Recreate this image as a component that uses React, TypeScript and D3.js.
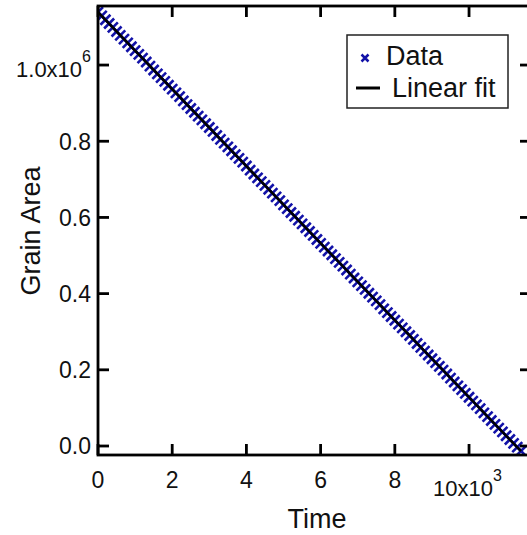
import React, { useEffect, useRef } from 'react';
import * as d3 from 'd3';

const times = [
  0, 100, 200, 300, 400, 500, 600, 700, 800, 900,
  1000, 1100, 1200, 1300, 1400, 1500, 1600, 1700, 1800, 1900,
  2000, 2100, 2200, 2300, 2400, 2500, 2600, 2700, 2800, 2900,
  3000, 3100, 3200, 3300, 3400, 3500, 3600, 3700, 3800, 3900,
  4000, 4100, 4200, 4300, 4400, 4500, 4600, 4700, 4800, 4900,
  5000, 5100, 5200, 5300, 5400, 5500, 5600, 5700, 5800, 5900,
  6000, 6100, 6200, 6300, 6400, 6500, 6600, 6700, 6800, 6900,
  7000, 7100, 7200, 7300, 7400, 7500, 7600, 7700, 7800, 7900,
  8000, 8100, 8200, 8300, 8400, 8500, 8600, 8700, 8800, 8900,
  9000, 9100, 9200, 9300, 9400, 9500, 9600, 9700, 9800, 9900,
  10000, 10100, 10200, 10300, 10400, 10500, 10600, 10700, 10800, 10900,
  11000, 11100, 11200, 11300, 11400,
];
const areasK = [
  1139, 1129, 1119, 1109, 1099, 1088, 1078, 1068, 1058, 1048,
  1038, 1028, 1018, 1008, 997, 987, 977, 967, 957, 947,
  937, 927, 917, 906, 896, 886, 876, 866, 856, 846,
  836, 826, 815, 805, 795, 785, 775, 765, 755, 745,
  735, 724, 714, 704, 694, 684, 674, 664, 654, 644,
  633, 623, 613, 603, 593, 583, 573, 563, 553, 542,
  532, 522, 512, 502, 492, 482, 472, 462, 451, 441,
  431, 421, 411, 401, 391, 381, 371, 360, 350, 340,
  330, 320, 310, 300, 290, 280, 269, 259, 249, 239,
  229, 219, 209, 199, 189, 178, 168, 158, 148, 138,
  128, 118, 108, 98, 87, 77, 67, 57, 47, 37,
  27, 17, 7, -3, -13,
];
const xTicks = [0, 2000, 4000, 6000, 8000, 10000];
const xTickLabels = ['0', '2', '4', '6', '8', '10x10'];
const yTicks = [0, 200000, 400000, 600000, 800000, 1000000];
const yTickLabels = ['0.0', '0.2', '0.4', '0.6', '0.8', '1.0x10'];
const legendItems = ['Data', 'Linear fit'];

const W = 527;
const H = 535;
const FONT = '"Liberation Sans", Arial, sans-serif';
const BLUE = '#1212a8';

function Chart() {
  const ref = useRef<SVGSVGElement>(null);

  useEffect(() => {
    const svg = d3.select(ref.current);
    svg.selectAll('*').remove();

    const left = 98, right = 531, top = 6, bottom = 455;
    const x = d3.scaleLinear().domain([0, 11670]).range([left, right]);
    const y = d3.scaleLinear().domain([-23600, 1155000]).range([bottom, top]);

    const data = times.map((t, i) => ({ t, a: areasK[i] * 1000 }));

    // least squares fit
    const mt = d3.mean(data, d => d.t)!;
    const ma = d3.mean(data, d => d.a)!;
    const slope = d3.sum(data, d => (d.t - mt) * (d.a - ma)) / d3.sum(data, d => (d.t - mt) ** 2);
    const icpt = ma - slope * mt;
    const t0 = times[0], t1 = times[times.length - 1];

    svg.append('clipPath').attr('id', 'plotclip')
      .append('rect')
      .attr('x', left).attr('y', top - 6)
      .attr('width', right - left + 10).attr('height', bottom - top + 6);

    const plot = svg.append('g').attr('clip-path', 'url(#plotclip)');

    // data markers
    const s = 5;
    plot.selectAll('path.mark')
      .data(data)
      .enter()
      .append('path')
      .attr('class', 'mark')
      .attr('d', d => {
        const cx = x(d.t), cy = y(d.a);
        return `M${cx - s},${cy - s}L${cx + s},${cy + s}M${cx - s},${cy + s}L${cx + s},${cy - s}`;
      })
      .attr('stroke', BLUE)
      .attr('stroke-width', 2.6)
      .attr('fill', 'none');

    // fit line
    plot.append('line')
      .attr('x1', x(t0)).attr('y1', y(icpt + slope * t0))
      .attr('x2', x(t1)).attr('y2', y(icpt + slope * t1))
      .attr('stroke', '#000')
      .attr('stroke-width', 2.5);

    // frame
    svg.append('rect')
      .attr('x', left).attr('y', top)
      .attr('width', right - left).attr('height', bottom - top)
      .attr('fill', 'none')
      .attr('stroke', '#000')
      .attr('stroke-width', 2.8);

    const tl = 11;
    const ticks = svg.append('g').attr('stroke', '#000').attr('stroke-width', 2.8);
    xTicks.forEach(v => {
      ticks.append('line').attr('x1', x(v)).attr('x2', x(v)).attr('y1', bottom).attr('y2', bottom - tl);
      ticks.append('line').attr('x1', x(v)).attr('x2', x(v)).attr('y1', top).attr('y2', top + tl);
    });
    yTicks.forEach(v => {
      ticks.append('line').attr('y1', y(v)).attr('y2', y(v)).attr('x1', left).attr('x2', left + tl);
      ticks.append('line').attr('y1', y(v)).attr('y2', y(v)).attr('x1', right).attr('x2', right - tl);
    });

    const fs = '23px';
    // x tick labels
    xTicks.forEach((v, i) => {
      if (i === xTicks.length - 1) {
        const t = svg.append('text')
          .attr('x', x(v) - 36).attr('y', 496)
          .style('font-family', FONT).style('font-size', '22px').attr('fill', '#111');
        t.append('tspan').text(xTickLabels[i]);
        t.append('tspan').attr('dy', -15).style('font-size', '16px').text('3');
      } else {
        svg.append('text')
          .attr('x', x(v)).attr('y', 488)
          .attr('text-anchor', 'middle')
          .style('font-family', FONT).style('font-size', fs).attr('fill', '#111')
          .text(xTickLabels[i]);
      }
    });

    // y tick labels
    yTicks.forEach((v, i) => {
      if (i === yTicks.length - 1) {
        const t = svg.append('text')
          .attr('x', 91).attr('y', y(v) + 12)
          .attr('text-anchor', 'end')
          .style('font-family', FONT).style('font-size', '22px').attr('fill', '#111');
        t.append('tspan').text(yTickLabels[i]);
        t.append('tspan').attr('dy', -15).style('font-size', '16px').text('6');
      } else {
        svg.append('text')
          .attr('x', 91).attr('y', y(v))
          .attr('dy', '0.36em')
          .attr('text-anchor', 'end')
          .style('font-family', FONT).style('font-size', fs).attr('fill', '#111')
          .text(yTickLabels[i]);
      }
    });

    // axis titles
    svg.append('text')
      .attr('x', 317).attr('y', 528)
      .attr('text-anchor', 'middle')
      .style('font-family', FONT).style('font-size', '27px').attr('fill', '#111')
      .text('Time');
    svg.append('text')
      .attr('transform', 'translate(40,231) rotate(-90)')
      .attr('text-anchor', 'middle')
      .style('font-family', FONT).style('font-size', '27px').attr('fill', '#111')
      .text('Grain Area');

    // legend
    const lg = svg.append('g');
    lg.append('rect')
      .attr('x', 347).attr('y', 35).attr('width', 161).attr('height', 73)
      .attr('fill', '#fff').attr('stroke', '#222').attr('stroke-width', 1.5);
    lg.append('path')
      .attr('d', 'M361.5,54.5L368.5,61.5M361.5,61.5L368.5,54.5')
      .attr('stroke', BLUE).attr('stroke-width', 2.5);
    lg.append('line')
      .attr('x1', 356).attr('x2', 380).attr('y1', 88).attr('y2', 88)
      .attr('stroke', '#000').attr('stroke-width', 3);
    lg.append('text')
      .attr('x', 386).attr('y', 65)
      .style('font-family', FONT).style('font-size', '27px').attr('fill', '#111')
      .text(legendItems[0]);
    lg.append('text')
      .attr('x', 392).attr('y', 97)
      .style('font-family', FONT).style('font-size', '27px').attr('fill', '#111')
      .text(legendItems[1]);
  }, []);

  return <svg ref={ref} width={W} height={H} style={{ position: 'absolute', left: 0, top: 0, background: '#fff' }} />;
}

export default function App() {
  return <Chart />;
}
